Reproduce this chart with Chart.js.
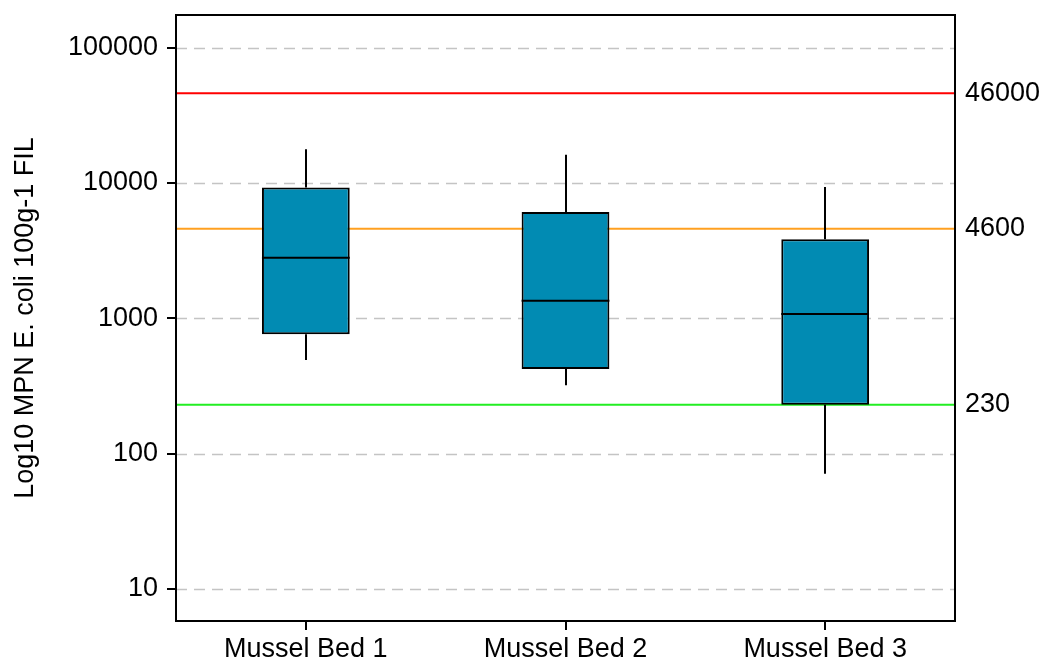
<!DOCTYPE html>
<html>
<head>
<meta charset="utf-8">
<script src="https://cdn.jsdelivr.net/npm/chart.js@4"></script>
<style>
  body { margin: 0; background: #fff; }
</style>
</head>
<body>
<canvas id="boxChart" width="1043" height="664"></canvas>
<script>
// values (MPN E. coli per 100 g FIL)
const categories = ['Mussel Bed 1', 'Mussel Bed 2', 'Mussel Bed 3'];
const whiskerLow = [492, 321, 71];
const q1 = [763, 423, 230];
const median = [2800, 1352, 1078];
const q3 = [9260, 6120, 3850];
const whiskerHigh = [17800, 16170, 9330];

const thresholds = [46000, 4600, 230];
const thresholdColors = ['#ff0000', '#ffa020', '#22ee22'];
const yTicks = [10, 100, 1000, 10000, 100000];

const yMin = 5.8;
const yMax = 174500;
const fontFamily = '"Liberation Sans", Arial, sans-serif';

const boxExtras = {
    id: 'boxExtras',
    beforeDatasetsDraw(chart) {
        const { ctx, chartArea: a, scales: { y } } = chart;
        ctx.save();
        // dashed grid lines
        ctx.strokeStyle = '#c4c4c4';
        ctx.lineWidth = 1.5;
        ctx.setLineDash([11, 7]);
        yTicks.forEach(v => {
            const py = Math.round(y.getPixelForValue(v)) + 0.5;
            ctx.beginPath();
            ctx.moveTo(a.left, py);
            ctx.lineTo(a.right, py);
            ctx.stroke();
        });
        ctx.setLineDash([]);
        // limit lines
        ctx.lineWidth = 2;
        thresholds.forEach((v, i) => {
            const py = y.getPixelForValue(v);
            ctx.strokeStyle = thresholdColors[i];
            ctx.beginPath();
            ctx.moveTo(a.left, py);
            ctx.lineTo(a.right, py);
            ctx.stroke();
        });
        ctx.restore();
    },
    afterDatasetsDraw(chart) {
        const { ctx, scales: { y } } = chart;
        const bars = chart.getDatasetMeta(0).data;
        ctx.save();
        ctx.strokeStyle = '#000';
        ctx.lineWidth = 2;
        bars.forEach((bar, i) => {
            const x = Math.round(bar.x);
            const half = bar.width / 2;
            ctx.beginPath();
            ctx.moveTo(x, y.getPixelForValue(q3[i]));
            ctx.lineTo(x, y.getPixelForValue(whiskerHigh[i]));
            ctx.moveTo(x, y.getPixelForValue(q1[i]));
            ctx.lineTo(x, y.getPixelForValue(whiskerLow[i]));
            ctx.stroke();
            const my = y.getPixelForValue(median[i]);
            ctx.beginPath();
            ctx.moveTo(bar.x - half, my);
            ctx.lineTo(bar.x + half, my);
            ctx.stroke();
        });
        ctx.restore();
    },
    afterDraw(chart) {
        const { ctx, chartArea: a } = chart;
        ctx.save();
        ctx.strokeStyle = '#000';
        ctx.lineWidth = 2;
        ctx.strokeRect(a.left, a.top, a.right - a.left, a.bottom - a.top);
        ctx.restore();
    }
};

const ctx = document.getElementById('boxChart').getContext('2d');
const boxChart = new Chart(ctx, {
    type: 'bar',
    data: {
        labels: categories,
        datasets: [{
            label: 'IQR',
            data: q1.map((v, i) => [v, q3[i]]),
            backgroundColor: '#018bb3',
            borderColor: '#000',
            borderWidth: 2,
            borderSkipped: false,
            barPercentage: 0.338,
            categoryPercentage: 1
        }]
    },
    options: {
        responsive: false,
        animation: false,
        layout: { padding: { top: 15, left: 0, right: 0, bottom: 0 } },
        plugins: {
            legend: { display: false },
            tooltip: { enabled: false }
        },
        scales: {
            x: {
                grid: { offset: false, drawOnChartArea: false, drawTicks: true, tickLength: 9, color: '#000', lineWidth: 2 },
                border: { display: false },
                ticks: { color: '#000', padding: 3, font: { family: fontFamily, size: 27 } },
                afterFit(scale) { scale.height = 43; }
            },
            y: {
                type: 'logarithmic',
                position: 'left',
                min: yMin,
                max: yMax,
                afterBuildTicks(scale) { scale.ticks = yTicks.map(v => ({ value: v })); },
                grid: { drawOnChartArea: false, drawTicks: true, tickLength: 9, color: '#000', lineWidth: 2 },
                border: { display: false },
                ticks: {
                    color: '#000',
                    padding: 9,
                    font: { family: fontFamily, size: 27 },
                    callback: v => String(v)
                },
                title: {
                    display: true,
                    text: 'Log10 MPN E. coli 100g-1 FIL',
                    color: '#000',
                    padding: { top: 9, bottom: 0 },
                    font: { family: fontFamily, size: 27 }
                },
                afterFit(scale) {
                    scale.width = 176;
                    scale.paddingTop = 0;
                    scale.paddingBottom = 0;
                }
            },
            y2: {
                type: 'logarithmic',
                position: 'right',
                min: yMin,
                max: yMax,
                afterBuildTicks(scale) { scale.ticks = thresholds.map(v => ({ value: v })); },
                grid: { display: false, drawTicks: false },
                border: { display: false },
                ticks: {
                    color: '#000',
                    padding: 10,
                    font: { family: fontFamily, size: 27 },
                    callback: v => String(v)
                },
                afterFit(scale) {
                    scale.width = 88;
                    scale.paddingTop = 0;
                    scale.paddingBottom = 0;
                }
            }
        }
    },
    plugins: [boxExtras]
});
</script>
</body>
</html>
